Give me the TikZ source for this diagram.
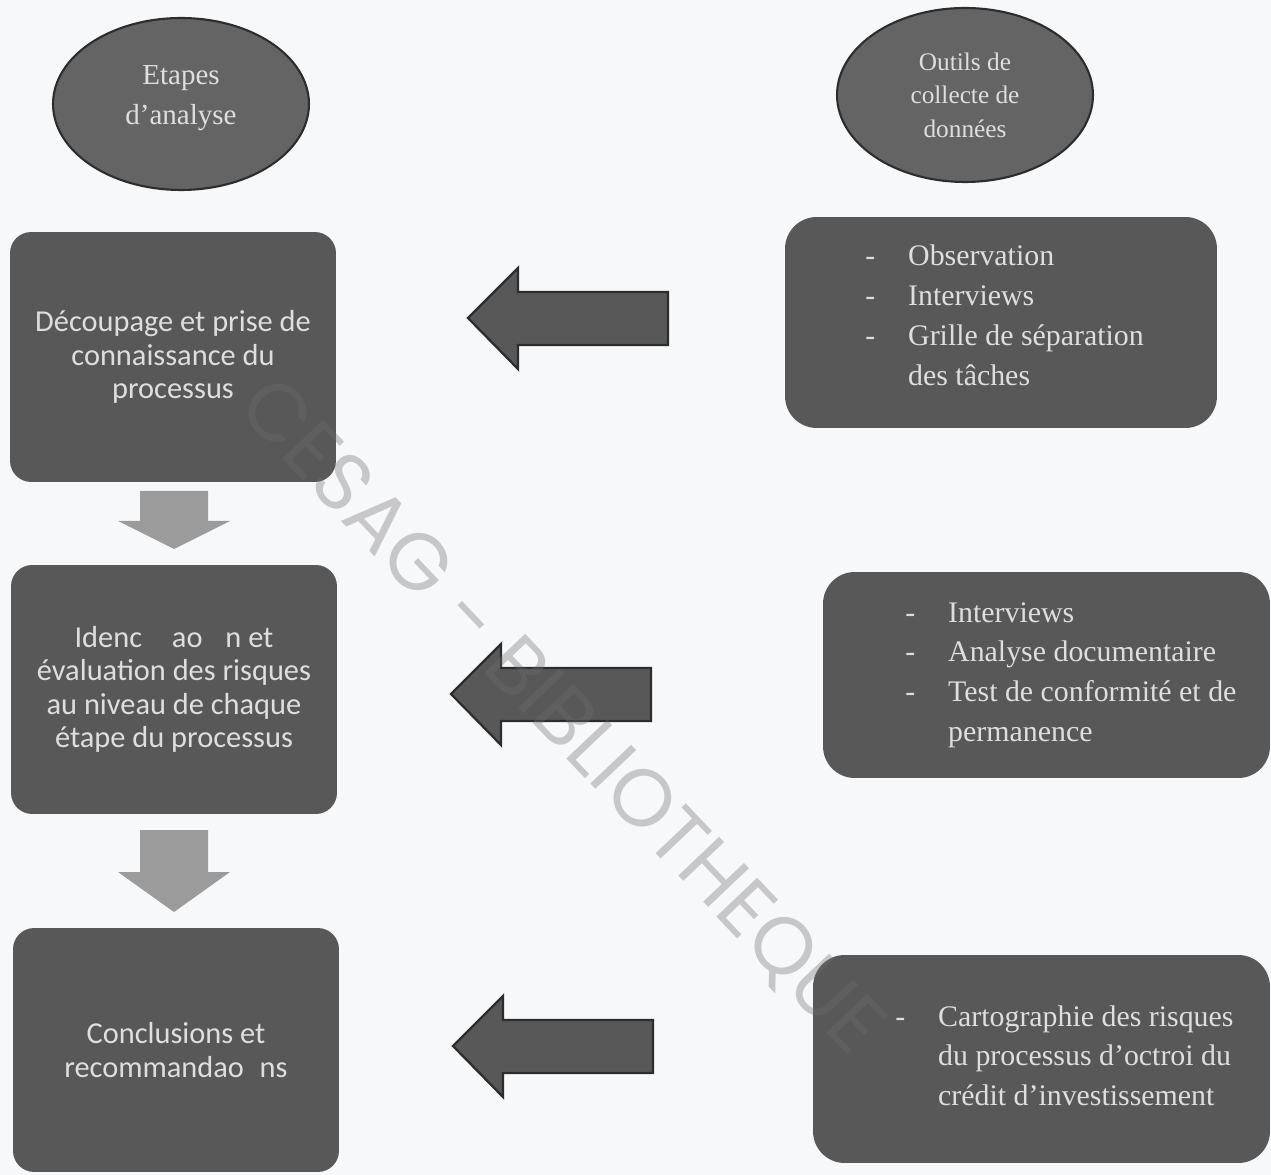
\documentclass[tikz,border=0pt]{standalone}
\usepackage{fontspec}
\setmainfont{Liberation Serif}
\newfontfamily\calibri{Carlito}
\newfontfamily\markfont{Poppins}
\usetikzlibrary{shapes.geometric}

\definecolor{pagebg}{RGB}{247,248,250}
\definecolor{boxgray}{RGB}{88,88,88}
\definecolor{ovalgray}{RGB}{100,100,100}
\definecolor{txtgray}{RGB}{222,222,222}
\definecolor{arrowgray}{RGB}{155,155,155}
\definecolor{edgegray}{RGB}{45,45,45}
\definecolor{markgray}{RGB}{110,110,110}

\tikzset{
    stepbox/.style={fill=boxgray, rounded corners=12pt, text=txtgray, align=center,
        inner sep=0pt, font=\calibri\fontsize{17.3}{19}\selectfont},
    toolbox/.style={fill=boxgray, rounded corners=18pt, inner sep=0pt},
    tooltext/.style={text=txtgray, anchor=base west, inner sep=0pt,
        font=\fontsize{17}{22.7}\selectfont},
    oval/.style={ellipse, draw=edgegray, line width=1.2pt, fill=ovalgray,
        text=txtgray, align=center, inner sep=0pt},
    downarrow/.style={fill=arrowgray},
    leftarrow/.style={fill=boxgray, draw=edgegray, line width=1.3pt, line join=miter}
}

\begin{document}
\begin{tikzpicture}[x=0.02cm, y=-0.02cm]
        \fill[pagebg] (0,0) rectangle (1271,1175);

        % headings
        \node[oval, minimum width=5.12cm, minimum height=3.44cm, text depth=0.37cm,
            font=\fontsize{16.5}{22.7}\selectfont] (etapes) at (181,104) {Etapes\\d’analyse};
        \node[oval, minimum width=5.12cm, minimum height=3.48cm,
            font=\fontsize{14.4}{19}\selectfont] (outils) at (965,95) {Outils de\\collecte de\\données};

        % left column
        \node[stepbox, minimum width=6.52cm, minimum height=5cm] (decoupage) at (173,357)
            {Découpage et prise de\\connaissance du\\processus};
        \node[stepbox, minimum width=6.52cm, minimum height=4.98cm] (evaluation) at (174,689.5)
            {Idenc\hspace{17pt}ao\hspace{13pt}n et\\évaluation des risques\\au niveau de chaque\\étape du processus};
        \node[stepbox, minimum width=6.52cm, minimum height=4.88cm] (conclusions) at (176,1050)
            {Conclusions et\\recommandao\hspace{9pt}ns};

        \foreach \ytop/\ybase/\ytip in {491/521/549, 830/872/912}
            \fill[downarrow] (140,\ytop) -- (208,\ytop) -- (208,\ybase) -- (230,\ybase)
                -- (174,\ytip) -- (118,\ybase) -- (140,\ybase) -- cycle;

        % right column
        \node[toolbox, minimum width=8.64cm, minimum height=4.22cm] (obs) at (1001,322.5) {};
        \node[toolbox, minimum width=8.94cm, minimum height=4.12cm] (docs) at (1046.5,675) {};
        \node[toolbox, minimum width=9.14cm, minimum height=4.16cm] (carto) at (1041.5,1059) {};

        \node[tooltext] (obstext) at (865,266) {\begin{tabular}[t]{@{}p{24.4pt}@{}l@{}}
            - & Observation\\
            - & Interviews\\
            - & Grille de séparation\\
              & des tâches
        \end{tabular}};
        \node[tooltext] (docstext) at (905,622) {\begin{tabular}[t]{@{}p{24.4pt}@{}l@{}}
            - & Interviews\\
            - & Analyse documentaire\\
            - & Test de conformité et de\\
              & permanence
        \end{tabular}};
        \node[tooltext] (cartotext) at (895,1026) {\begin{tabular}[t]{@{}p{24.4pt}@{}l@{}}
            - & Cartographie des risques\\
              & du processus d’octroi du\\
              & crédit d’investissement
        \end{tabular}};

        \foreach \tx/\ty in {468/318, 451/694, 453/1046}
            \draw[leftarrow] (\tx,\ty) -- ++(50,-50) -- ++(0,24) -- ++(150,0) -- ++(0,53)
                -- ++(-150,0) -- ++(0,24) -- cycle;

        % watermark
        \node[rotate=-46.5, text=markgray, opacity=0.35, inner sep=0pt,
            font=\markfont\fontsize{46}{46}\selectfont] (mark) at (560,718) {CESAG - BIBLIOTHEQUE};
    \end{tikzpicture}
\end{document}
